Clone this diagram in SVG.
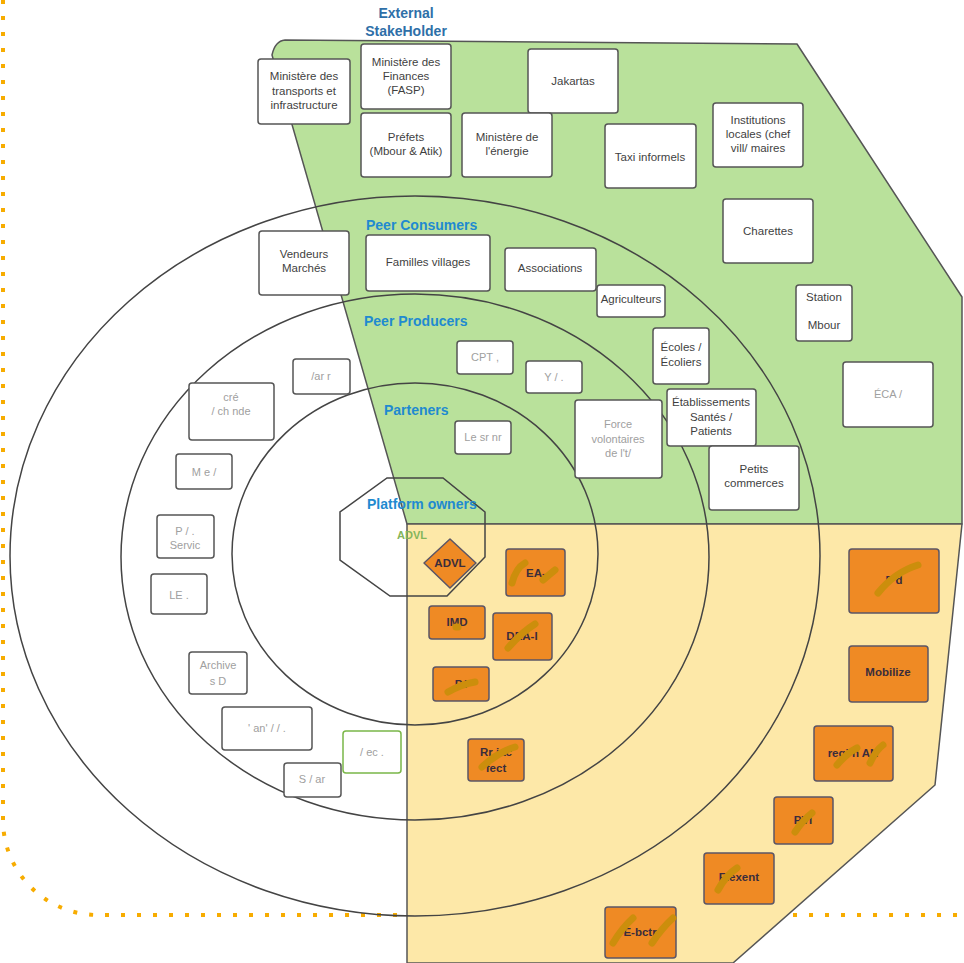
<svg xmlns="http://www.w3.org/2000/svg" width="964" height="963" viewBox="0 0 964 963">
<defs>
<style>
.bg{fill:#fff}
.dots{fill:none;stroke:#f7ac00;stroke-width:4;stroke-dasharray:4 12}
.region{stroke:#555;stroke-width:1.5;stroke-linejoin:round}
.ring{fill:none;stroke:#444;stroke-width:1.5}
.box rect{fill:#fff;stroke:#555;stroke-width:1.5}
.box.gb rect{stroke:#7ab648}
.box text{font-family:"Liberation Sans",Arial,sans-serif;font-size:11.5px;fill:#3f3f3f;text-anchor:middle}
.box text.f{fill:#a0a0a0;font-size:11px}
.ob rect,.ob path{fill:#ef8a24;stroke:#5b5566;stroke-width:1.5}
.ob text{font-family:"Liberation Sans",Arial,sans-serif;font-size:11.5px;font-weight:bold;fill:#3b2d3b;text-anchor:middle}
.scr{fill:none;stroke:#cc8e0c;stroke-width:7;stroke-linecap:round}
.hd{font-family:"Liberation Sans",Arial,sans-serif;font-size:14px;font-weight:bold;fill:#1f8ad0}
.hd.ext{fill:#2e6fa8;text-anchor:middle}
</style>
</defs>
<rect class="bg" x="0" y="0" width="964" height="963"/>
<path class="dots" d="M3,0 V820 A95,95 0 0 0 98,915 H964"/>
<g id="regions">
<path id="external-region" class="region" fill="#b9e19b" d="M272,55 Q275,41 285,40 L797,44 L962,297 L962,524 L407,524 Z"/>
<path id="platform-region" class="region" fill="#fde8a8" d="M407,524 L962,524 L935,785 L733,963 L407,963 Z"/>
</g>
<g id="rings">
<ellipse class="ring" cx="415" cy="556" rx="405" ry="360"/>
<ellipse class="ring" cx="415" cy="557" rx="294" ry="263"/>
<ellipse class="ring" cx="415" cy="554" rx="183" ry="171"/>
<path class="ring" d="M387,478 L443,478 L485,512 L485,557 L447,596 L390,596 L340,560 L340,512 Z"/>
</g>
<g id="labels">
<text class="hd ext" x="406" y="18">External</text>
<text class="hd ext" x="406" y="36">StakeHolder</text>
<text class="hd" x="366" y="230">Peer Consumers</text>
<text class="hd" x="364" y="326">Peer Producers</text>
<text class="hd" x="384" y="415">Parteners</text>
<text class="hd" x="367" y="509">Platform owners</text>
<text x="397" y="539" style="font-family:'Liberation Sans',Arial,sans-serif;font-size:11px;font-weight:bold;fill:#84b55a">ADVL</text>
</g>
<g id="n-transports" class="box"><rect x="258" y="59" width="92" height="65" rx="3"/><text x="304" y="80">Ministère des</text><text x="304" y="95">transports et</text><text x="304" y="109">infrastructure</text></g>
<g id="n-finances" class="box"><rect x="361" y="44" width="90" height="65" rx="3"/><text x="406" y="66">Ministère des</text><text x="406" y="80">Finances</text><text x="406" y="94">(FASP)</text></g>
<g id="n-jakartas" class="box"><rect x="528" y="49" width="90" height="64" rx="3"/><text x="573" y="85">Jakartas</text></g>
<g id="n-prefets" class="box"><rect x="361" y="113" width="90" height="64" rx="3"/><text x="406" y="141">Préfets</text><text x="406" y="155">(Mbour &amp; Atik)</text></g>
<g id="n-energie" class="box"><rect x="462" y="113" width="90" height="64" rx="3"/><text x="507" y="141">Ministère de</text><text x="507" y="155">l'énergie</text></g>
<g id="n-taxi" class="box"><rect x="605" y="124" width="91" height="64" rx="3"/><text x="650" y="161">Taxi informels</text></g>
<g id="n-institutions" class="box"><rect x="713" y="103" width="90" height="64" rx="3"/><text x="758" y="124">Institutions</text><text x="758" y="138">locales (chef</text><text x="758" y="152">vill/ maires</text></g>
<g id="n-charettes" class="box"><rect x="723" y="199" width="90" height="64" rx="3"/><text x="768" y="235">Charettes</text></g>
<g id="n-station" class="box"><rect x="796" y="285" width="56" height="56" rx="3"/><text x="824" y="301">Station</text><text x="824" y="329">Mbour</text></g>
<g id="n-eca" class="box"><rect x="843" y="362" width="90" height="65" rx="3"/><text class="f" x="888" y="398">ÉCA /</text></g>
<g id="n-ecoles" class="box"><rect x="653" y="328" width="56" height="56" rx="3"/><text x="681" y="351">Écoles /</text><text x="681" y="366">Écoliers</text></g>
<g id="n-etablissements" class="box"><rect x="667" y="389" width="89" height="57" rx="3"/><text x="711" y="406">Établissements</text><text x="711" y="421">Santés /</text><text x="711" y="435">Patients</text></g>
<g id="n-petits" class="box"><rect x="709" y="446" width="90" height="64" rx="3"/><text x="754" y="473">Petits</text><text x="754" y="487">commerces</text></g>
<g id="n-agriculteurs" class="box"><rect x="597" y="285" width="68" height="32" rx="3"/><text x="631" y="303">Agriculteurs</text></g>
<g id="n-associations" class="box"><rect x="505" y="248" width="91" height="43" rx="3"/><text x="550" y="272">Associations</text></g>
<g id="n-familles" class="box"><rect x="366" y="235" width="124" height="56" rx="3"/><text x="428" y="266">Familles villages</text></g>
<g id="n-vendeurs" class="box"><rect x="259" y="231" width="90" height="64" rx="3"/><text x="304" y="258">Vendeurs</text><text x="304" y="272">Marchés</text></g>
<g id="n-cpt" class="box"><rect x="457" y="341" width="56" height="33" rx="3"/><text class="f" x="485" y="361">CPT ,</text></g>
<g id="n-y" class="box"><rect x="526" y="361" width="56" height="32" rx="3"/><text class="f" x="554" y="381">Y /  .</text></g>
<g id="n-le" class="box"><rect x="455" y="421" width="56" height="33" rx="3"/><text class="f" x="483" y="441">Le sr nr</text></g>
<g id="n-force" class="box"><rect x="575" y="400" width="87" height="78" rx="3"/><text class="f" x="618" y="428">Force</text><text class="f" x="618" y="443">volontaires</text><text class="f" x="618" y="457">de l't/</text></g>
<g id="n-l1" class="box"><rect x="293" y="359" width="57" height="35" rx="3"/><text class="f" x="321" y="380">/ar r</text></g>
<g id="n-l2" class="box"><rect x="189" y="383" width="85" height="57" rx="3"/><text class="f" x="231" y="401">cré</text><text class="f" x="231" y="415">/ ch  nde</text></g>
<g id="n-l3" class="box"><rect x="176" y="454" width="56" height="35" rx="3"/><text class="f" x="204" y="476">M  e  /</text></g>
<g id="n-l4" class="box"><rect x="157" y="515" width="57" height="43" rx="3"/><text class="f" x="185" y="535">P  /  .</text><text class="f" x="185" y="549">Servic</text></g>
<g id="n-l5" class="box"><rect x="151" y="574" width="56" height="40" rx="3"/><text class="f" x="179" y="599">LE .</text></g>
<g id="n-l6" class="box"><rect x="189" y="652" width="58" height="42" rx="3"/><text class="f" x="218" y="669">Archive</text><text class="f" x="218" y="685">s D</text></g>
<g id="n-l7" class="box"><rect x="222" y="707" width="90" height="43" rx="3"/><text class="f" x="267" y="732">' an'  /  /  .</text></g>
<g id="n-l8" class="box gb"><rect x="343" y="731" width="58" height="42" rx="3"/><text class="f" x="372" y="756">/ ec  .</text></g>
<g id="n-l9" class="box"><rect x="284" y="763" width="57" height="34" rx="3"/><text class="f" x="312" y="783">S  / ar</text></g>
<g id="n-advl" class="ob"><path d="M450,539 L476,563 L450,588 L424,563 Z" stroke-linejoin="round"/><text x="450" y="567">ADVL</text></g>
<g id="n-ea" class="ob"><rect x="506" y="549" width="59" height="47" rx="3"/><text x="536" y="577">EA-</text></g>
<g id="n-imd" class="ob"><rect x="429" y="606" width="56" height="33" rx="3"/><text x="457" y="626">IMD</text></g>
<g id="n-dea" class="ob"><rect x="493" y="613" width="59" height="47" rx="3"/><text x="522" y="640">DEA-I</text></g>
<g id="n-pi" class="ob"><rect x="433" y="667" width="56" height="34" rx="3"/><text x="461" y="688">P.I</text></g>
<g id="n-rr" class="ob"><rect x="468" y="739" width="56" height="42" rx="3"/><text x="496" y="756">Rr iac</text><text x="496" y="772">fect</text></g>
<g id="n-fd" class="ob"><rect x="849" y="549" width="90" height="64" rx="3"/><text x="894" y="584">F d</text></g>
<g id="n-mobilize" class="ob"><rect x="849" y="646" width="79" height="56" rx="3"/><text x="888" y="676">Mobilize</text></g>
<g id="n-region" class="ob"><rect x="814" y="726" width="79" height="55" rx="3"/><text x="853" y="757">regi n AN</text></g>
<g id="n-pvi" class="ob"><rect x="774" y="797" width="59" height="47" rx="3"/><text x="803" y="824">PVI</text></g>
<g id="n-flexent" class="ob"><rect x="704" y="853" width="70" height="51" rx="3"/><text x="739" y="881">Flexent</text></g>
<g id="n-ebctr" class="ob"><rect x="605" y="907" width="71" height="51" rx="3"/><text x="640" y="936">E-bctr</text></g>
<g id="scribbles">
<path class="scr" d="M512,583 Q516,568 525,563"/>
<path class="scr" d="M543,580 Q550,574 555,570"/>
<path class="scr" d="M456,627 L458,627"/>
<path class="scr" d="M508,648 Q522,632 535,624"/>
<path class="scr" d="M448,692 Q462,684 475,682"/>
<path class="scr" d="M482,767 Q498,752 515,747"/>
<path class="scr" d="M878,593 Q895,572 918,565"/>
<path class="scr" d="M837,765 Q847,753 857,748"/>
<path class="scr" d="M870,763 Q876,750 883,745"/>
<path class="scr" d="M795,832 Q803,820 812,813"/>
<path class="scr" d="M718,890 Q726,875 737,868"/>
<path class="scr" d="M613,943 Q622,928 633,918"/>
<path class="scr" d="M652,943 Q662,928 673,918"/>
</g>
</svg>
